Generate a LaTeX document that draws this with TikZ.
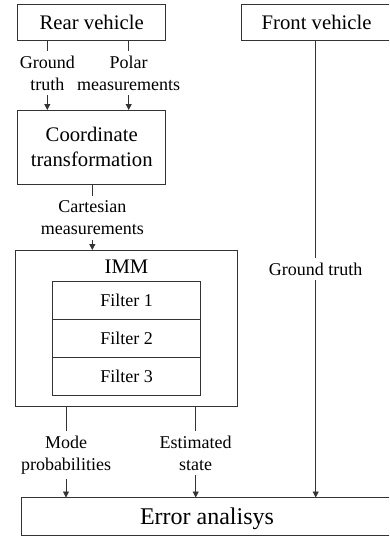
\documentclass[tikz,border=0pt]{standalone}
\usepackage{fontspec}
\setmainfont{Liberation Serif}
\usetikzlibrary{arrows.meta}
\newcommand\boxfs{\fontsize{20.7}{25}\selectfont}
\newcommand\lblfs{\fontsize{18}{22}\selectfont}
\newcommand\errfs{\fontsize{24}{28}\selectfont}
\definecolor{linec}{gray}{0.2}
\tikzset{
  box/.style={draw=linec, line width=0.8pt, inner sep=0pt, outer sep=0pt, align=center, font=\boxfs},
  filt/.style={draw=linec, line width=0.8pt, inner sep=0pt, outer sep=0pt, minimum width=148.4pt, minimum height=37.8pt, font=\lblfs},
  lbl/.style={inner xsep=0pt, inner ysep=5pt, outer sep=0pt, align=center, font=\lblfs},
  conn/.style={draw=linec, line width=0.8pt},
  arr/.style={conn, -{Triangle[length=6pt,width=6pt]}}
}
\begin{document}
\begin{tikzpicture}[x=1pt,y=-1pt]
\useasboundingbox (0,0) rectangle (389,536);
\clip (0,0) rectangle (389,536);
% boxes
\node[box, minimum width=148pt, minimum height=36.7pt] (rear) at (91.7,22.35) {Rear vehicle};
\node[box, draw=none, minimum width=150.6pt, minimum height=36.7pt] (front) at (316.6,22.35) {Front vehicle};
\draw[conn] (front.north west) rectangle ([xshift=8pt]front.south east);
\node[box, minimum width=148pt, minimum height=74.3pt] (coord) at (91.7,147.15) {Coordinate\\transformation};
\node[box, minimum width=222.4pt, minimum height=156pt] (imm) at (126.5,328) {};
\node[font=\boxfs, anchor=base, inner sep=0pt] (immt) at (126.5,273.3) {IMM};
\node[filt] (f1) at (126.5,300.6) {Filter 1};
\node[filt] (f2) at (126.5,338.4) {Filter 2};
\node[filt] (f3) at (126.5,376.1) {Filter 3};
\node[box, draw=none, minimum width=372pt, minimum height=38pt, font=\errfs, text depth=0pt] (err) at (207,516.5) {Error analisys};
\draw[conn] (err.north west) rectangle ([xshift=8pt]err.south east);
% labels
\node[lbl] (gt1) at (47.3,72.85) {Ground\\truth};
\node[lbl] (pol) at (128.7,72.85) {Polar\\measurements};
\node[lbl] (cart) at (92.3,217.9) {Cartesian\\measurements};
\node[lbl] (mode) at (66,454.8) {Mode\\probabilities};
\node[lbl] (est) at (195.7,452.9) {Estimated\\state};
\node[lbl] (gt2) at (315.7,268.9) {Ground truth};
% connectors
\draw[conn] (gt1.north |- rear.south) -- (gt1.north);
\draw[arr] (gt1.south) -- (gt1.south |- coord.north);
\draw[conn] (pol.north |- rear.south) -- (pol.north);
\draw[arr] (pol.south) -- (pol.south |- coord.north);
\draw[conn] (cart.north |- coord.south) -- (cart.north);
\draw[arr] (cart.south) -- (cart.south |- imm.north);
\draw[conn] (mode.north |- imm.south) -- (mode.north);
\draw[arr] (mode.south) -- (mode.south |- err.north);
\draw[conn] (est.north |- imm.south) -- (est.north);
\draw[arr] (est.south) -- (est.south |- err.north);
\draw[conn] (gt2.north |- front.south) -- (gt2.north);
\draw[arr] (gt2.south) -- (gt2.south |- err.north);
\end{tikzpicture}
\end{document}
